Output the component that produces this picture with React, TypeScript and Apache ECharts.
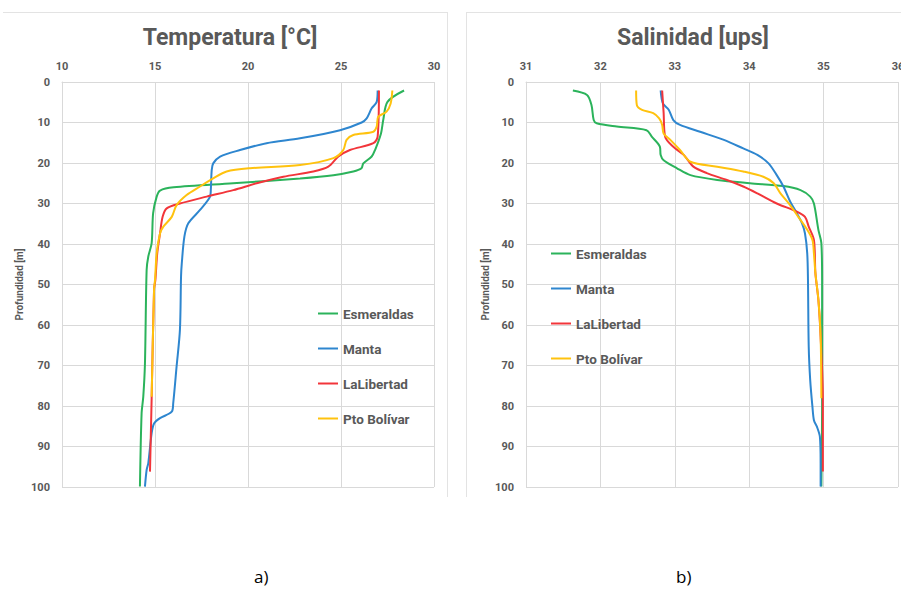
import React, { useEffect, useRef } from "react";
import * as echarts from "echarts";

// [temperature °C, depth m]
const tempEsmeraldas: number[][] = [
  [28.39, 2.1], [27.5, 4.9], [27.27, 9.4], [27.15, 12.7], [26.83, 16.8], [26.65, 18.4],
  [26.2, 20.1], [26.1, 21.3], [25.66, 22.1], [24.59, 23.0], [22.8, 23.8], [19.2, 25.0],
  [16.0, 26.0], [15.27, 26.8], [15.09, 28.3], [14.9, 32.4], [14.82, 39.8], [14.64, 43.1],
  [14.55, 46.4], [14.46, 69.5], [14.37, 77.7], [14.28, 81.8], [14.19, 99.9],
];
const tempManta: number[][] = [
  [26.97, 2.1], [26.92, 4.9], [26.65, 6.5], [26.38, 9.0], [26.11, 10.0], [24.95, 11.9],
  [22.8, 13.9], [21.0, 15.1], [19.57, 16.8], [18.5, 18.4], [18.13, 20.1], [18.05, 21.7],
  [18.0, 26.7], [17.96, 28.3], [17.42, 31.6], [16.79, 34.9], [16.58, 38.2], [16.44, 44.8],
  [16.4, 48.0], [16.34, 61.2], [16.16, 70.3], [15.98, 79.3], [15.9, 81.4], [15.27, 83.0],
  [14.95, 84.3], [14.82, 86.7], [14.64, 94.1], [14.55, 95.8], [14.46, 99.9],
];
const tempLaLibertad: number[][] = [
  [27.04, 2.1], [26.97, 13.5], [26.74, 15.1], [25.48, 16.8], [24.86, 18.4], [24.32, 20.9],
  [23.51, 22.1], [21.9, 23.4], [20.47, 25.0], [19.21, 26.7], [17.78, 28.3], [16.34, 30.0],
  [15.63, 31.2], [15.41, 33.3], [15.27, 37.4], [15.12, 42.3], [15.02, 48.9], [14.95, 51.1],
  [14.82, 78.1], [14.73, 96.2],
];
const tempPtoBolivar: number[][] = [
  [27.76, 2.1], [27.67, 5.3], [27.45, 7.3], [27.0, 8.6], [26.92, 11.0], [26.74, 12.3],
  [25.66, 13.1], [25.3, 14.3], [25.12, 16.8], [24.59, 18.8], [22.8, 20.5], [20.1, 21.3],
  [18.85, 22.1], [18.13, 23.8], [17.42, 25.8], [16.7, 27.9], [16.16, 30.4], [15.9, 33.3],
  [15.45, 35.7], [15.27, 37.4], [15.09, 42.3], [15.0, 48.9], [14.95, 51.1], [14.82, 77.7],
];

// [salinity ups, depth m]
const salEsmeraldas: number[][] = [
  [31.63, 2.1], [31.82, 3.2], [31.88, 5.7], [31.91, 9.4], [31.95, 10.2], [32.22, 11.0],
  [32.62, 11.9], [32.69, 13.5], [32.8, 16.0], [32.81, 18.0], [32.85, 19.3], [33.03, 21.3],
  [33.21, 23.0], [33.57, 24.2], [34.01, 25.0], [34.46, 25.7], [34.69, 26.7], [34.82, 28.3],
  [34.87, 30.0], [34.93, 36.5], [34.97, 39.8], [34.98, 48.9], [34.98, 80.0], [34.97, 99.9],
];
const salManta: number[][] = [
  [32.81, 2.1], [32.84, 5.3], [32.92, 6.9], [32.98, 9.4], [33.07, 10.6], [33.34, 12.3],
  [33.66, 14.3], [33.92, 16.4], [34.11, 18.0], [34.26, 20.1], [34.37, 23.0], [34.46, 25.8],
  [34.55, 29.5], [34.64, 32.4], [34.71, 34.9], [34.75, 37.4], [34.78, 42.3], [34.79, 48.9],
  [34.8, 65.3], [34.82, 73.6], [34.85, 80.2], [34.87, 83.5], [34.91, 85.1], [34.95, 87.6],
  [34.96, 94.1], [34.96, 99.9],
];
const salLaLibertad: number[][] = [
  [32.83, 2.1], [32.85, 7.7], [32.87, 13.5], [32.98, 16.0], [33.12, 18.0], [33.25, 20.9],
  [33.43, 22.5], [33.7, 24.2], [33.92, 25.8], [34.11, 27.5], [34.37, 30.0], [34.64, 32.0],
  [34.75, 33.3], [34.8, 35.7], [34.87, 39.0], [34.89, 47.2], [34.93, 53.8], [34.96, 62.9],
  [34.99, 78.1], [34.99, 96.2],
];
const salPtoBolivar: number[][] = [
  [32.48, 2.1], [32.49, 5.7], [32.56, 6.9], [32.71, 7.7], [32.79, 9.0], [32.83, 10.6],
  [32.85, 12.7], [32.94, 14.3], [33.07, 16.8], [33.21, 19.7], [33.57, 20.9], [33.92, 22.1],
  [34.19, 23.4], [34.33, 25.0], [34.42, 27.5], [34.55, 30.4], [34.66, 33.3], [34.78, 36.5],
  [34.85, 39.0], [34.87, 42.3], [34.89, 47.2], [34.93, 53.8], [34.96, 62.9], [34.97, 78.1],
];

const stationNames = ["Esmeraldas", "Manta", "LaLibertad", "Pto Bolívar"];
const stationColors = ["#2BB35B", "#2E86CF", "#F2353A", "#FFC20E"];
const titles = ["Temperatura [°C]", "Salinidad [ups]"];
const depthName = "Profundidad [m]";
const panelLabels = ["a)", "b)"];

const tempSeries = [tempEsmeraldas, tempManta, tempLaLibertad, tempPtoBolivar];
const salSeries = [salEsmeraldas, salManta, salLaLibertad, salPtoBolivar];

const FONT = "Roboto, 'Noto Sans', sans-serif";
const TXT = "#595959";
const GRID = "#D9D9D9";

export default function App() {
  const ref = useRef<HTMLDivElement>(null);
  useEffect(() => {
    document.body.style.margin = "0";
    if (!ref.current) return;
    const chart = echarts.init(ref.current, undefined, { renderer: "svg" });

    const axisLabel = { color: TXT, fontFamily: FONT, fontWeight: "bold" as const, fontSize: 11 };
    const makeX = (gridIndex: number, min: number, max: number, interval: number) => ({
      type: "value" as const,
      gridIndex,
      position: "top" as const,
      min,
      max,
      interval,
      axisLine: { show: true, lineStyle: { color: GRID, width: 1 } },
      axisTick: { show: false },
      axisLabel: { ...axisLabel, margin: 10 },
      splitLine: { show: true, lineStyle: { color: GRID, width: 1 } },
    });
    const makeY = (gridIndex: number, nameGap: number) => ({
      type: "value" as const,
      gridIndex,
      inverse: true,
      min: 0,
      max: 100,
      interval: 10,
      name: depthName,
      nameLocation: "middle" as const,
      nameGap,
      nameRotate: 90,
      nameTextStyle: { color: TXT, fontFamily: FONT, fontWeight: "bold" as const, fontSize: 10 },
      axisLine: { show: true, lineStyle: { color: GRID, width: 1 } },
      axisTick: { show: false },
      axisLabel: { ...axisLabel, margin: 12 },
      splitLine: { show: true, lineStyle: { color: GRID, width: 1 } },
    });

    const series: any[] = [];
    tempSeries.forEach((d, i) =>
      series.push({
        type: "line",
        name: stationNames[i],
        xAxisIndex: 0,
        yAxisIndex: 0,
        data: d,
        symbol: "none",
        smooth: 0.3,
        lineStyle: { color: stationColors[i], width: 2 },
        itemStyle: { color: stationColors[i] },
      })
    );
    salSeries.forEach((d, i) =>
      series.push({
        type: "line",
        name: stationNames[i],
        xAxisIndex: 1,
        yAxisIndex: 1,
        data: d,
        symbol: "none",
        smooth: 0.3,
        lineStyle: { color: stationColors[i], width: 2 },
        itemStyle: { color: stationColors[i] },
      })
    );

    const legendBase = {
      orient: "vertical" as const,
      icon: "rect",
      itemWidth: 20,
      itemHeight: 2,
      itemGap: 20,
      textStyle: { color: TXT, fontFamily: FONT, fontWeight: "bold" as const, fontSize: 13.5, lineHeight: 15 },
      data: stationNames,
    };

    const frameStyle = { stroke: "#E3E3E3", lineWidth: 1 };

    chart.setOption({
      animation: false,
      backgroundColor: "#ffffff",
      title: [
        {
          text: titles[0],
          left: 225,
          top: 21,
          textAlign: "center",
          textStyle: { color: TXT, fontFamily: FONT, fontWeight: "bold", fontSize: 23 },
        },
        {
          text: titles[1],
          left: 688,
          top: 21,
          textAlign: "center",
          textStyle: { color: TXT, fontFamily: FONT, fontWeight: "bold", fontSize: 23 },
        },
      ],
      grid: [
        { left: 62, top: 82, width: 372, height: 405, containLabel: false, outerBoundsMode: "none" },
        { left: 526, top: 82, width: 372, height: 405, containLabel: false, outerBoundsMode: "none" },
      ],
      xAxis: [makeX(0, 10, 30, 5), makeX(1, 31, 36, 1)],
      yAxis: [makeY(0, 38), makeY(1, 36)],
      legend: [
        { ...legendBase, left: 313, top: 301 },
        { ...legendBase, left: 546, top: 241 },
      ],
      series,
      graphic: [
        { type: "line", shape: { x1: 3, y1: 12.5, x2: 447, y2: 12.5 }, style: frameStyle, silent: true },
        { type: "line", shape: { x1: 447.5, y1: 12, x2: 447.5, y2: 497 }, style: frameStyle, silent: true },
        { type: "line", shape: { x1: 466, y1: 12.5, x2: 901, y2: 12.5 }, style: frameStyle, silent: true },
        { type: "line", shape: { x1: 466.5, y1: 12, x2: 466.5, y2: 497 }, style: frameStyle, silent: true },
        {
          type: "text",
          left: 254,
          top: 568,
          style: { text: panelLabels[0], fill: "#000", fontFamily: "'Open Sans', sans-serif", fontSize: 17 },
        },
        {
          type: "text",
          left: 676,
          top: 568,
          style: { text: panelLabels[1], fill: "#000", fontFamily: "'Open Sans', sans-serif", fontSize: 17 },
        },
      ],
    });
    return () => chart.dispose();
  }, []);
  return <div ref={ref} style={{ width: 901, height: 590 }} />;
}
